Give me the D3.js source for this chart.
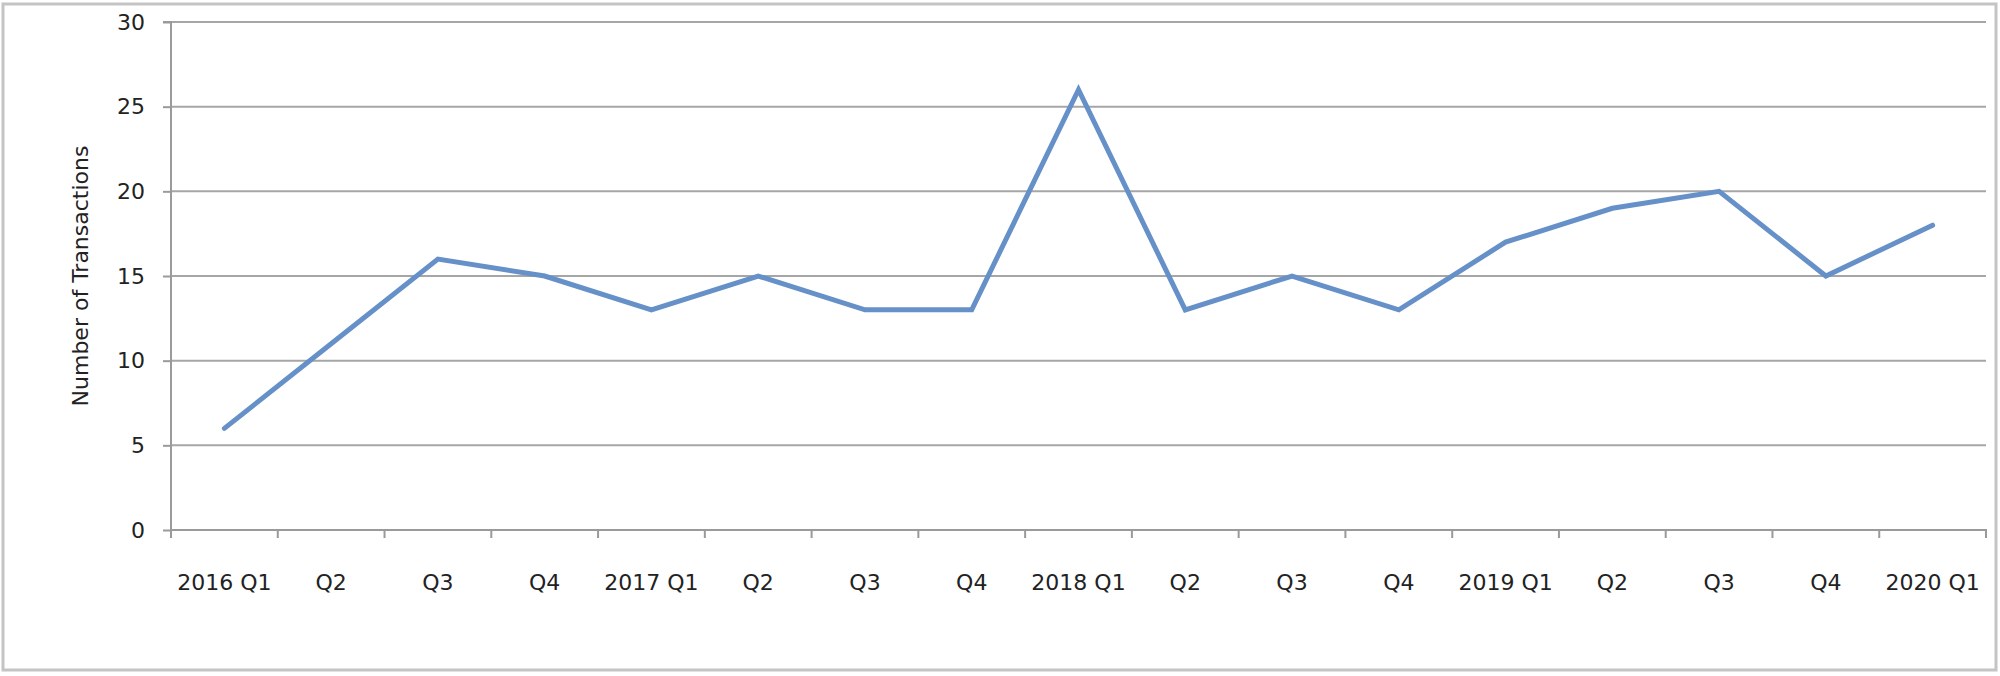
<!DOCTYPE html>
<html><head><meta charset="utf-8">
<script src="https://cdn.jsdelivr.net/npm/d3@7"></script>
<style>html,body{margin:0;padding:0;background:#fff;}svg{display:block;}</style>
</head><body>
<script>
const categories = ["2016 Q1","Q2","Q3","Q4","2017 Q1","Q2","Q3","Q4","2018 Q1","Q2","Q3","Q4","2019 Q1","Q2","Q3","Q4","2020 Q1"];
const transactions = [6, 11, 16, 15, 13, 15, 13, 13, 26, 13, 15, 13, 17, 19, 20, 15, 18];
const yTicks = [0, 5, 10, 15, 20, 25, 30];
const yTitle = "Number of Transactions";

(function(){
const W = 2000, H = 676;
const pL = 171, pR = 1986, pT = 22, pB = 530;
const svg = d3.select("body").append("svg").attr("width", W).attr("height", H);

svg.append("rect").attr("x", 3).attr("y", 4).attr("width", 1993).attr("height", 666)
  .attr("fill", "#fff").attr("stroke", "#c4c4c4").attr("stroke-width", 3);

const x = d3.scaleBand().domain(categories.map((d,i)=>i)).range([pL, pR]).padding(0);
const y = d3.scaleLinear().domain([0, 30]).range([pB, pT]);

// gridlines
svg.append("g").selectAll("line").data(yTicks.filter(d=>d>0)).join("line")
  .attr("x1", pL).attr("x2", pR).attr("y1", d=>y(d)).attr("y2", d=>y(d))
  .attr("stroke", "#a6a6a6").attr("stroke-width", 2);

// y axis
const yAxis = svg.append("g").attr("transform", `translate(${pL},0)`)
  .call(d3.axisLeft(y).tickValues(yTicks).tickSize(8).tickPadding(18));
yAxis.select(".domain").attr("stroke", "#9a9a9a").attr("stroke-width", 2).attr("d", `M-8,${pT}H0V${pB}`);
yAxis.selectAll(".tick line").attr("stroke", "#9a9a9a").attr("stroke-width", 2);
yAxis.selectAll("text").attr("font-family", "DejaVu Sans, sans-serif").attr("font-size", 22).attr("fill", "#222");

// x axis
const xAxis = svg.append("g").attr("transform", `translate(0,${pB})`)
  .call(d3.axisBottom(x).tickFormat(i=>categories[i]).tickSize(0).tickPadding(44));
xAxis.select(".domain").attr("stroke", "#9a9a9a").attr("stroke-width", 2).attr("d", `M${pL},0H${pR}V8`);
xAxis.selectAll("text").attr("font-family", "DejaVu Sans, sans-serif").attr("font-size", 22).attr("fill", "#222");
svg.append("g").selectAll("line").data(categories.map((d,i)=>i)).join("line")
  .attr("x1", i=>x(i)).attr("x2", i=>x(i)).attr("y1", pB).attr("y2", pB+8)
  .attr("stroke", "#9a9a9a").attr("stroke-width", 2);

// y title
svg.append("text").attr("transform", `translate(80,${(pT+pB)/2}) rotate(-90)`)
  .attr("text-anchor", "middle").attr("dominant-baseline", "central")
  .attr("font-family", "DejaVu Sans, sans-serif").attr("font-size", 22).attr("fill", "#222")
  .text(yTitle);

// line
const line = d3.line().x((d,i)=>x(i)+x.bandwidth()/2).y(d=>y(d));
svg.append("path").datum(transactions).attr("d", line)
  .attr("fill", "none").attr("stroke", "#6690c8").attr("stroke-width", 5)
  .attr("stroke-linejoin", "miter").attr("stroke-linecap", "round");
})();
</script>
</body></html>
